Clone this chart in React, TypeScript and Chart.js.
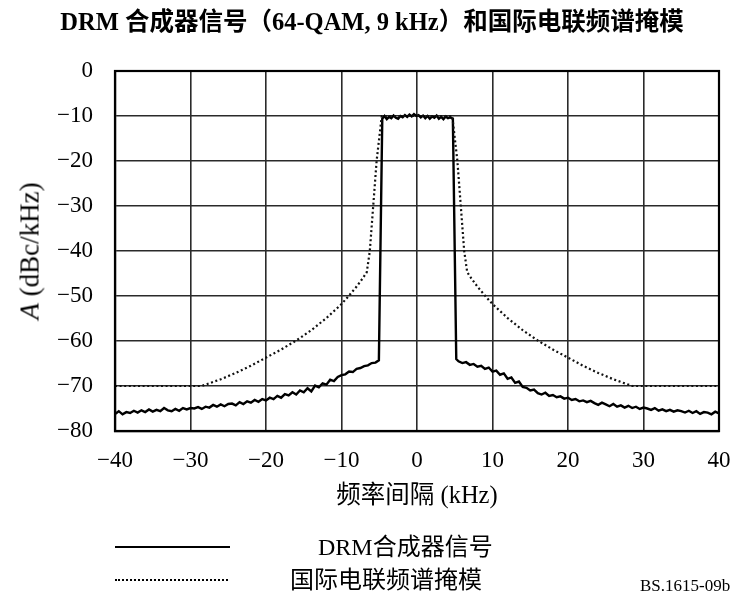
import React, { useEffect, useRef } from "react";
import { Chart, registerables } from "chart.js";

Chart.register(...registerables);

// DRM synthesiser output: lower skirt, occupied band, upper skirt (kHz, dBc/kHz)
const lowerFreq = [
  -40, -39.5, -39, -38.5, -38, -37.5, -37, -36.5, -36, -35.5, -35, -34.5, -34, -33.5, -33, -32.5,
  -32, -31.5, -31, -30.5, -30, -29.5, -29, -28.5, -28, -27.5, -27, -26.5, -26, -25.5, -25, -24.5,
  -24, -23.5, -23, -22.5, -22, -21.5, -21, -20.5, -20, -19.5, -19, -18.5, -18, -17.5, -17, -16.5,
  -16, -15.5, -15, -14.5, -14, -13.5, -13, -12.5, -12, -11.5, -11, -10.5, -10, -9.5, -9, -8.5,
  -8, -7.5, -7, -6.5, -6, -5.5, -5.05,
];
const lowerLevel = [
  -76.2, -75.6, -76.3, -75.8, -76.0, -75.5, -75.9, -75.4, -75.8, -75.2, -75.7, -75.3, -75.6, -74.9, -75.4, -75.6,
  -75.1, -75.5, -74.9, -75.2, -74.9, -75.0, -74.7, -75.1, -74.6, -74.8, -74.2, -74.6, -74.1, -74.5, -74.0, -73.9,
  -74.3, -73.6, -74.0, -73.4, -73.7, -73.1, -73.5, -72.9, -73.2, -72.6, -72.9, -72.2, -72.6, -71.8, -72.1, -71.4,
  -71.9, -71.0, -71.4, -70.5, -71.2, -69.9, -70.3, -69.4, -69.7, -68.6, -68.9, -68.0, -67.6, -67.4, -66.8, -66.9,
  -66.2, -66.0, -65.6, -65.4, -64.9, -64.8, -64.3,
];
const bandFreq = [
  -4.6, -4.3, -4.0, -3.7, -3.4, -3.1, -2.8, -2.5, -2.2, -1.9, -1.6, -1.3, -1.0, -0.7, -0.4, -0.1,
  0.2, 0.5, 0.8, 1.1, 1.4, 1.7, 2.0, 2.3, 2.6, 2.9, 3.2, 3.5, 3.8, 4.1, 4.4, 4.75,
];
const bandLevel = [
  -10.6, -10.0, -10.7, -10.2, -10.5, -9.9, -10.4, -10.6, -10.0, -10.3, -9.8, -10.2, -9.7, -10.1, -9.6, -10.0,
  -9.8, -10.3, -9.9, -10.5, -10.0, -10.6, -10.1, -10.4, -9.9, -10.6, -10.2, -10.7, -10.1, -10.5, -10.3, -10.6,
];
const upperFreq = [
  5.2, 5.5, 6, 6.5, 7, 7.5, 8, 8.5, 9, 9.5, 10, 10.5, 11, 11.5, 12, 12.5, 13, 13.5, 14, 14.5,
  15, 15.5, 16, 16.5, 17, 17.5, 18, 18.5, 19, 19.5, 20, 20.5, 21, 21.5, 22, 22.5, 23, 23.5, 24, 24.5,
  25, 25.5, 26, 26.5, 27, 27.5, 28, 28.5, 29, 29.5, 30, 30.5, 31, 31.5, 32, 32.5, 33, 33.5, 34, 34.5,
  35, 35.5, 36, 36.5, 37, 37.5, 38, 38.5, 39, 39.5, 40,
];
const upperLevel = [
  -64.0, -64.5, -64.9, -64.7, -65.3, -65.1, -65.7, -65.5, -66.2, -65.9, -66.8, -66.6, -67.5, -67.2, -68.4, -68.1, -69.3, -69.0, -70.2, -70.4,
  -71.0, -70.8, -71.6, -71.9, -71.5, -72.2, -72.0, -72.5, -72.3, -72.8, -72.6, -73.1, -72.9, -73.4, -73.2, -73.6, -73.3, -73.8, -74.2, -73.7,
  -74.1, -74.5, -74.0, -74.6, -74.3, -74.8, -74.4, -74.9, -74.6, -75.1, -74.8, -75.0, -75.3, -74.9, -75.5, -75.2, -75.6, -75.3, -75.7, -75.4,
  -75.6, -75.9, -75.5, -76.0, -75.6, -76.2, -75.8, -75.9, -76.3, -75.7, -76.1,
];

// ITU spectrum mask breakpoints
const maskFreq = [
  -40, -28.5, -26, -24, -22, -20, -18, -16, -14, -12, -10, -9, -8, -7.2, -6.65, -6.25, -5.8, -5.35, -4.67,
  4.67, 5.35, 5.8, 6.25, 6.65, 7.2, 8, 9, 10, 12, 14, 16, 18, 20, 22, 24, 26, 28.5, 40,
];
const maskLevel = [
  -70, -70, -68.5, -67.1, -65.5, -63.7, -61.9, -59.9, -57.6, -54.9, -51.8, -49.9, -47.9, -46.1, -44.7, -40, -30, -20, -10,
  -10, -20, -30, -40, -44.7, -46.1, -47.9, -49.9, -51.8, -54.9, -57.6, -59.9, -61.9, -63.7, -65.5, -67.1, -68.5, -70, -70,
];

const xTicks = [-40, -30, -20, -10, 0, 10, 20, 30, 40];
const yTicks = [0, -10, -20, -30, -40, -50, -60, -70, -80];

const title = "DRM 合成器信号（64-QAM, 9 kHz）和国际电联频谱掩模";
const xTitle = "频率间隔 (kHz)";
const signalName = "DRM合成器信号";
const maskName = "国际电联频谱掩模";
const figureRef = "BS.1615-09b";

const serif = '"Liberation Serif", "Noto Sans CJK SC", serif';

const pairs = (xs: number[], ys: number[]) => xs.map((x, i) => ({ x, y: ys[i] }));
const fmt = (v: number) => (v < 0 ? "\u2212" + Math.abs(v) : String(v));

export default function App() {
  const canvasRef = useRef<HTMLCanvasElement | null>(null);

  useEffect(() => {
    const canvas = canvasRef.current;
    if (!canvas) return;
    const signal = [
      ...pairs(lowerFreq, lowerLevel),
      ...pairs(bandFreq, bandLevel),
      ...pairs(upperFreq, upperLevel),
    ];
    const chart = new Chart(canvas, {
      type: "scatter",
      data: {
        datasets: [
          {
            label: maskName,
            data: pairs(maskFreq, maskLevel),
            showLine: true,
            borderColor: "#111",
            borderWidth: 2.2,
            borderDash: [2, 2.6],
            pointRadius: 0,
            tension: 0,
          },
          {
            label: signalName,
            data: signal,
            showLine: true,
            borderColor: "#000",
            borderWidth: 2.4,
            pointRadius: 0,
            tension: 0,
          },
        ],
      },
      options: {
        responsive: false,
        animation: false,
        events: [],
        layout: { padding: { left: 0, top: 71, right: 12, bottom: 127 } },
        plugins: { legend: { display: false }, tooltip: { enabled: false }, title: { display: false } },
        scales: {
          x: {
            type: "linear",
            min: -40,
            max: 40,
            afterBuildTicks: (s: any) => {
              s.ticks = xTicks.map((v) => ({ value: v }));
            },
            afterFit: (s: any) => {
              s.height = 40;
              s.paddingLeft = 0;
              s.paddingRight = 0;
            },
            ticks: {
              callback: (v: any) => fmt(Number(v)),
              color: "#000",
              padding: 16,
              maxRotation: 0,
              font: { family: serif, size: 23 },
            },
            grid: { color: "#2a2a2a", lineWidth: 1.6, drawTicks: false },
            border: { display: true, color: "#000", width: 2.2 },
          },
          y: {
            type: "linear",
            min: -80,
            max: 0,
            afterBuildTicks: (s: any) => {
              s.ticks = yTicks.map((v) => ({ value: v }));
            },
            afterFit: (s: any) => {
              s.width = 115;
              s.paddingTop = 0;
              s.paddingBottom = 0;
            },
            ticks: {
              callback: (v: any) => fmt(Number(v)),
              color: "#000",
              padding: 22,
              font: { family: serif, size: 23 },
            },
            grid: { color: "#2a2a2a", lineWidth: 1.6, drawTicks: false },
            border: { display: true, color: "#000", width: 2.2 },
          },
        },
      },
      plugins: [
        {
          id: "frame",
          afterDraw(c: any) {
            const { ctx, chartArea } = c;
            ctx.save();
            ctx.strokeStyle = "#000";
            ctx.lineWidth = 2.2;
            ctx.strokeRect(chartArea.left, chartArea.top, chartArea.right - chartArea.left, chartArea.bottom - chartArea.top);
            ctx.restore();
          },
        },
      ],
    });
    return () => chart.destroy();
  }, []);

  const abs = (style: React.CSSProperties): React.CSSProperties => ({
    position: "absolute",
    fontFamily: serif,
    color: "#000",
    whiteSpace: "nowrap",
    lineHeight: 1,
    ...style,
  });

  return (
    <div style={{ position: "fixed", left: 0, top: 0, width: 731, height: 598, background: "#fff", overflow: "hidden" }}>
      <canvas ref={canvasRef} width={731} height={598} style={{ position: "absolute", left: 0, top: 0 }} />
      <div style={abs({ left: 372, top: 22, fontSize: 24.5, fontWeight: "bold", transform: "translate(-50%, -50%)" })}>
        {title}
      </div>
      <div
        style={abs({
          left: 30,
          top: 251,
          fontSize: 27,
          transform: "translate(-50%, -50%) rotate(-90deg)",
        })}
      >
        <i>A</i> (dBc/kHz)
      </div>
      <div style={abs({ left: 417, top: 495, fontSize: 24.5, transform: "translate(-50%, -50%)" })}>{xTitle}</div>
      <div style={abs({ left: 115, top: 546, width: 115, height: 0, borderTop: "2.4px solid #000" })} />
      <div style={abs({ left: 318, top: 547, fontSize: 24, transform: "translateY(-50%)" })}>{signalName}</div>
      <div style={abs({ left: 115, top: 579, width: 113, height: 0, borderTop: "2.2px dotted #000" })} />
      <div style={abs({ left: 290, top: 580, fontSize: 24, transform: "translateY(-50%)" })}>{maskName}</div>
      <div style={abs({ left: 640, top: 585, fontSize: 17, transform: "translateY(-50%)" })}>{figureRef}</div>
    </div>
  );
}
